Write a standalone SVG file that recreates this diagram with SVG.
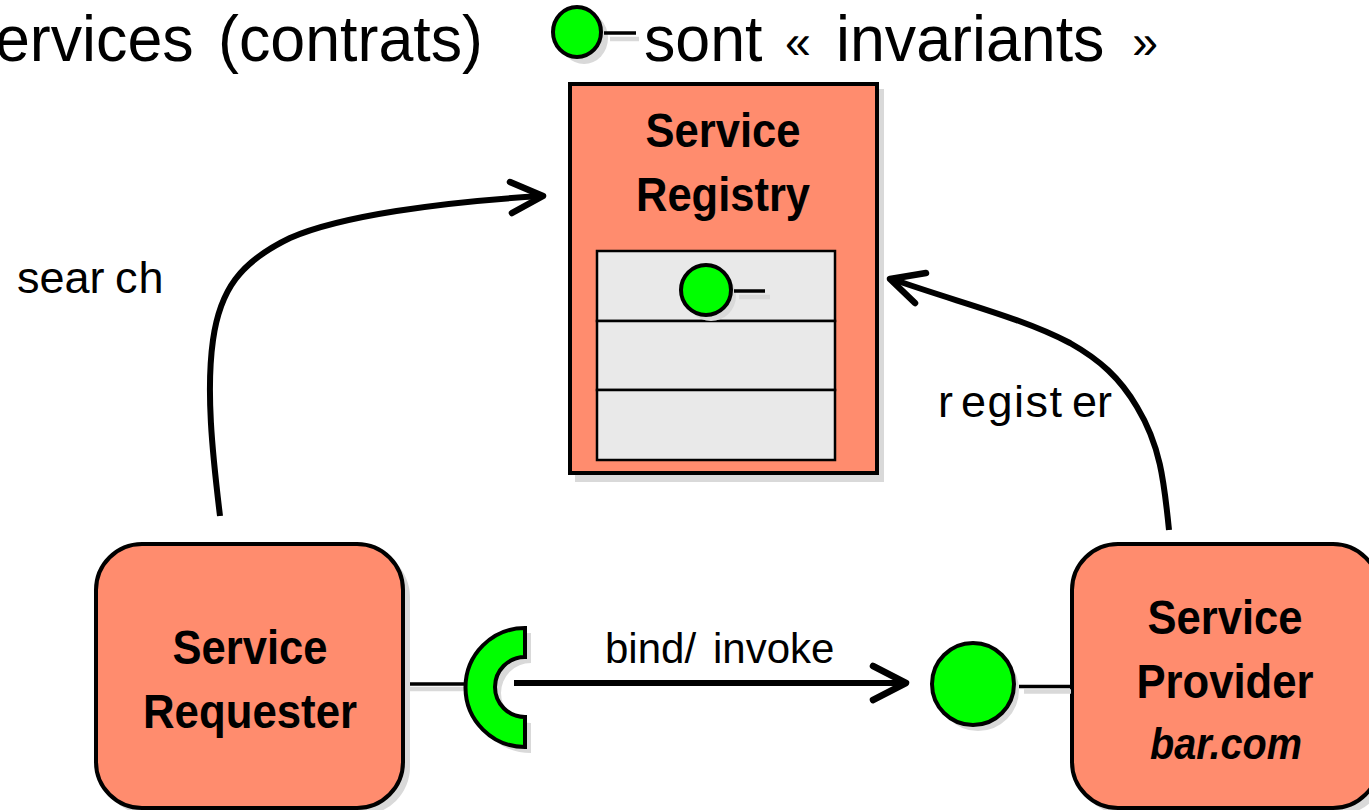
<svg xmlns="http://www.w3.org/2000/svg" width="1369" height="810" viewBox="0 0 1369 810">
<style>
text{font-family:"Liberation Sans",Arial,sans-serif;fill:#000}
.t{font-size:65px}
.q{font-size:48px}
.b{font-size:48px;font-weight:bold;text-anchor:middle}
.l{font-size:45px}
.box{fill:#ff8c6e;stroke:#000;stroke-width:4}
.sh{fill:#d9d9d9}
.g{fill:#0f0;stroke:#000;stroke-width:4}
.cell{fill:#e9e9e9;stroke:#000;stroke-width:2.5}
.ln{stroke:#000;stroke-width:3.5;fill:none}
.sl{stroke:#d9d9d9;stroke-width:4.5;fill:none}
.c{fill:none;stroke:#000;stroke-width:6}
.a{fill:none;stroke:#000;stroke-width:6.5;stroke-linecap:round;stroke-linejoin:round}
</style>
<rect width="1369" height="810" fill="#fff"/>
<g id="title">
<text class="t" transform="translate(0 61) scale(.965 1)"><tspan x="-5.2">ervices </tspan><tspan x="226">(contrats)</tspan></text>
<ellipse class="sh" cx="584" cy="38" rx="24" ry="26"/>
<path class="sl" d="M610 39H639"/>
<ellipse class="g" cx="577" cy="32" rx="24" ry="25"/>
<path class="ln" d="M604 33H636"/>
<text class="t" transform="translate(644 61) scale(.965 1)"><tspan x="0">sont </tspan><tspan class="q" x="146" dy="-3">« </tspan><tspan x="199" dy="3">invariants </tspan><tspan class="q" x="506" dy="-3">»</tspan></text>
</g>
<g id="registry">
<rect class="sh" x="575" y="89" width="309" height="393"/>
<rect class="box" x="570" y="84" width="307" height="389"/>
<text class="b" x="723" y="147" textLength="155" lengthAdjust="spacingAndGlyphs">Service</text>
<text class="b" x="723" y="211" textLength="174" lengthAdjust="spacingAndGlyphs">Registry</text>
<rect class="cell" x="597" y="251" width="238" height="70"/>
<rect class="cell" x="597" y="321" width="238" height="69"/>
<rect class="cell" x="597" y="390" width="238" height="70"/>
<circle class="sh" cx="711" cy="296" r="25"/>
<path class="sl" d="M739 297H770"/>
<circle class="g" cx="706" cy="290" r="25"/>
<path class="ln" d="M734 291H765"/>
</g>
<g id="requester">
<rect class="sh" x="101" y="549" width="309" height="266" rx="48"/>
<rect class="box" x="96" y="544" width="307" height="264" rx="46"/>
<text class="b" x="250" y="664" textLength="155" lengthAdjust="spacingAndGlyphs">Service</text>
<text class="b" x="250" y="728" textLength="214" lengthAdjust="spacingAndGlyphs">Requester</text>
</g>
<g id="provider">
<rect class="sh" x="1077" y="549" width="309" height="266" rx="48"/>
<rect class="box" x="1072" y="544" width="307" height="264" rx="46"/>
<text class="b" x="1225" y="634" textLength="155" lengthAdjust="spacingAndGlyphs">Service</text>
<text class="b" x="1225" y="698" textLength="177" lengthAdjust="spacingAndGlyphs">Provider</text>
<text class="b" x="1226" y="759" font-style="italic" style="font-size:44px" textLength="152" lengthAdjust="spacingAndGlyphs">bar.com</text>
</g>
<g id="socket">
<path class="sl" d="M410 689H470"/>
<path class="ln" d="M410 684H466"/>
<path class="sh" d="M531 633A60 60 0 0 0 531 753V723A30 30 0 0 1 531 663Z"/>
<path class="g" d="M525 628A59.500 59.500 0 0 0 525 747V717A30 30 0 0 1 525 657Z"/>
</g>
<g id="lollipop">
<circle class="sh" cx="978" cy="690" r="41"/>
<path class="sl" d="M1024 691.500H1071"/>
<circle class="g" cx="973" cy="684" r="41"/>
<path class="ln" d="M1019 686.500H1071"/>
</g>
<g id="connectors">
<path class="c" d="M220 516C212 450 206 390 213 340C220 290 240 262 290 238C340 216 440 202 542 196"/>
<path class="a" d="M510 182L543 196L512 213"/>
<path class="c" d="M1169 530C1164 480 1160 445 1137 407C1120 378 1100 360 1070 343C1020 317 960 303 892 279"/>
<path class="a" d="M926 273L890 279L915 303"/>
<path class="c" d="M514 683H903"/>
<path class="a" d="M873 666L906 683L873 700"/>
</g>
<g id="labels">
<text class="l" y="293"><tspan x="17">sear</tspan><tspan x="115" style="letter-spacing:1px">ch</tspan></text>
<text class="l" y="417"><tspan x="938">r</tspan><tspan x="961" style="letter-spacing:1.500px">egist</tspan><tspan x="1072">er</tspan></text>
<text class="l" y="663" style="font-size:42px"><tspan x="605">bind/</tspan><tspan x="713">invoke</tspan></text>
</g>
</svg>
